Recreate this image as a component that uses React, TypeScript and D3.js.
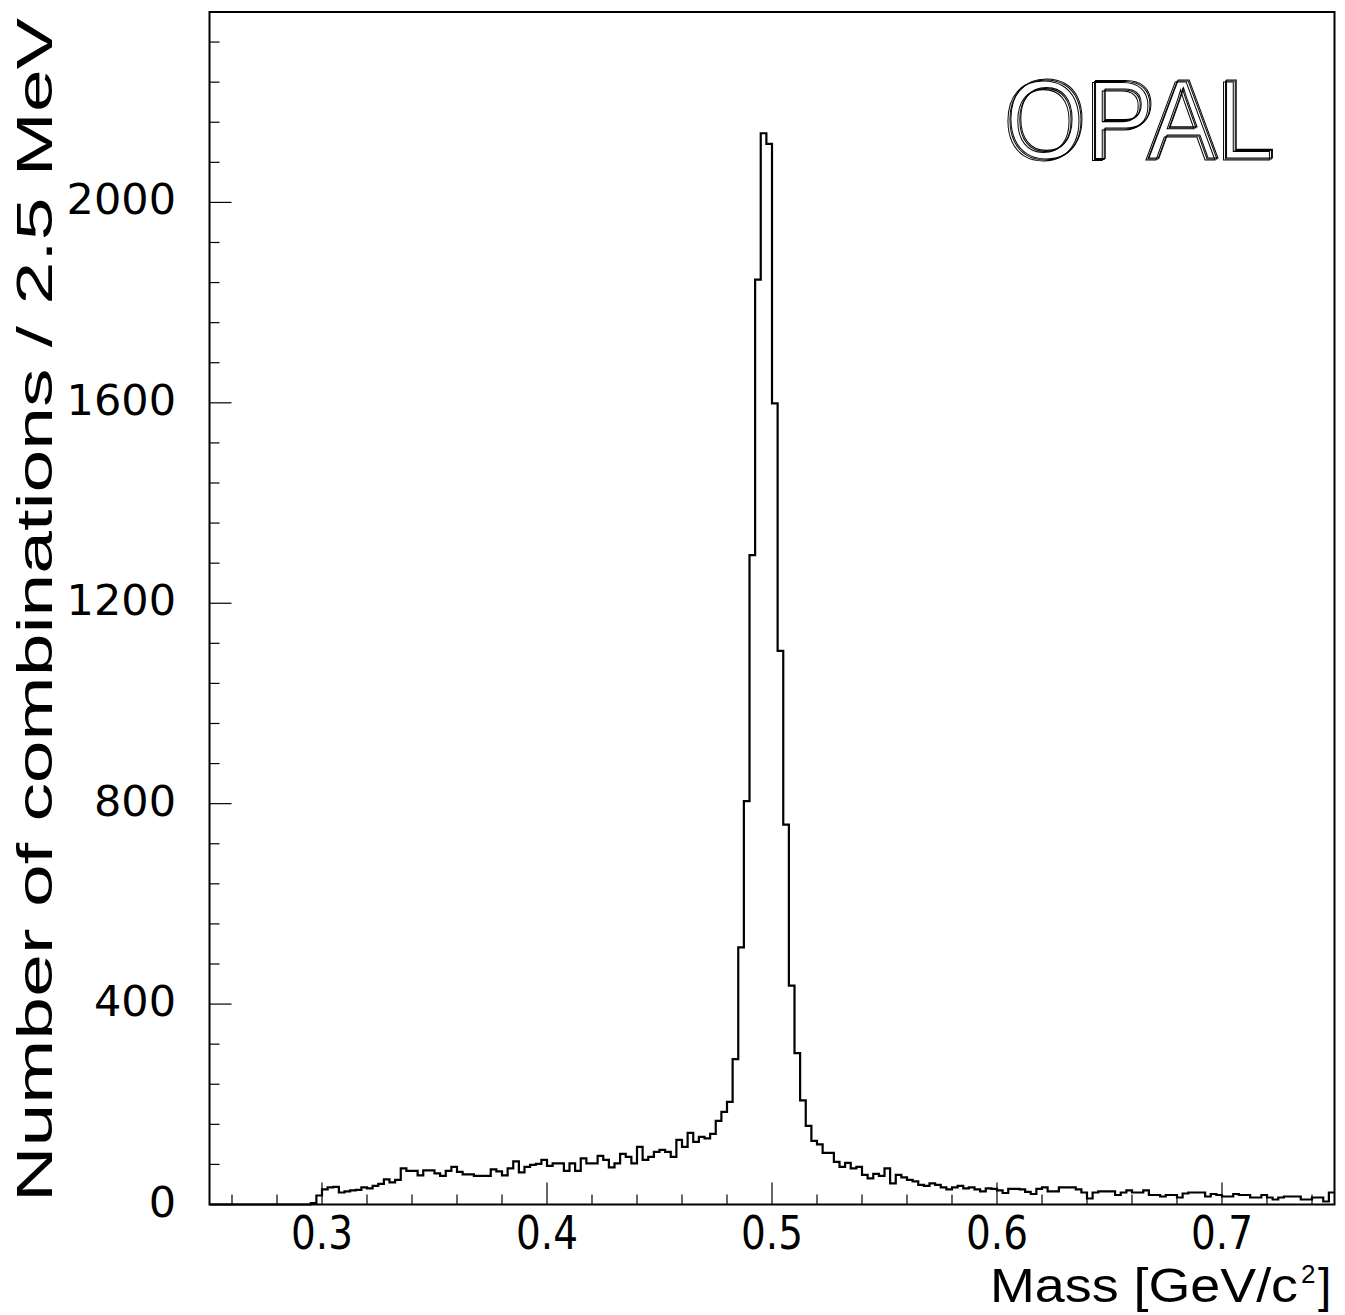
import React from "react";
import * as d3 from "d3";

// Histogram: 2.5 MeV bins from 0.25 to 0.75 GeV/c^2
const binStart = 0.25;
const binWidth = 0.0025;
const counts: number[] = [
  0, 0, 0, 0, 0, 0, 0, 0, 0, 0,
  0, 0, 0, 0, 0, 0, 0, 0, 3, 18,
  30, 34, 35, 24, 26, 28, 29, 34, 32, 37,
  41, 50, 44, 49, 72, 67, 67, 58, 68, 68,
  62, 57, 67, 75, 65, 60, 60, 57, 57, 57,
  70, 66, 58, 72, 86, 64, 75, 79, 81, 89,
  77, 82, 82, 67, 82, 67, 92, 82, 82, 97,
  89, 74, 82, 101, 95, 82, 115, 89, 95, 105,
  109, 105, 95, 129, 115, 143, 125, 135, 132, 141,
  167, 185, 205, 290, 513, 805, 1296, 1846, 2138, 2117,
  1599, 1105, 758, 437, 302, 208, 157, 127, 120, 103,
  103, 85, 75, 83, 72, 75, 59, 52, 61, 57,
  72, 42, 59, 54, 49, 46, 39, 37, 42, 39,
  34, 30, 34, 37, 32, 34, 30, 26, 32, 31,
  28, 23, 31, 31, 30, 25, 21, 31, 34, 26,
  26, 34, 34, 34, 30, 24, 12, 24, 26, 26,
  26, 19, 24, 28, 24, 24, 28, 19, 19, 16,
  19, 19, 14, 22, 24, 24, 24, 16, 21, 19,
  16, 16, 21, 19, 19, 14, 14, 19, 14, 10,
  14, 16, 16, 16, 10, 10, 14, 14, 6, 24,
];

const xDomain: [number, number] = [0.25, 0.75];
const yDomain: [number, number] = [0, 2380];
const xTickLabels = [0.3, 0.4, 0.5, 0.6, 0.7];
const yTickLabels = [0, 400, 800, 1200, 1600, 2000];
const xMinorStep = 0.02;
const yMinorStep = 80;

const W = 1345;
const H = 1315;
const left = 209.5;
const right = 1334.5;
const top = 12;
const bottom = 1204.5;

export default function App() {
  const x = d3.scaleLinear().domain(xDomain).range([left, right]);
  const y = d3.scaleLinear().domain(yDomain).range([bottom, top]);

  const pts: [number, number][] = counts.map((c, i) => [binStart + i * binWidth, c]);
  pts.push([binStart + counts.length * binWidth, counts[counts.length - 1]]);
  const line = d3
    .line<[number, number]>()
    .x((d) => x(d[0]))
    .y((d) => y(d[1]))
    .curve(d3.curveStepAfter);
  const pathD = line(pts) || "";

  const xTicks: number[] = [];
  for (let v = 0.26; v < 0.75 - 1e-9; v += xMinorStep) xTicks.push(Math.round(v * 1000) / 1000);
  const yTicks: number[] = [];
  for (let v = 0; v <= 2380; v += yMinorStep) yTicks.push(v);

  const isMajorX = (v: number) => xTickLabels.some((t) => Math.abs(t - v) < 1e-6);
  const isMajorY = (v: number) => v % 400 === 0;

  const font = "'Liberation Sans', Arial, Helvetica, sans-serif";

  return (
    <svg
      width={W}
      height={H}
      style={{ position: "absolute", left: 0, top: 0, background: "#fff" }}
      xmlns="http://www.w3.org/2000/svg"
    >
      <defs>
        <filter id="opalEcho" x="-5%" y="-10%" width="115%" height="125%">
          <feOffset in="SourceGraphic" dx={3} dy={-2} result="off1" />
          <feOffset in="SourceGraphic" dx={1.5} dy={-1} result="off2" />
          <feMerge>
            <feMergeNode in="SourceGraphic" />
            <feMergeNode in="off2" />
            <feMergeNode in="off1" />
          </feMerge>
        </filter>
      </defs>
      <rect x={0} y={0} width={W} height={H} fill="#fff" />
      {/* histogram */}
      <path d={pathD} fill="none" stroke="#000" strokeWidth={2.2} />
      {/* frame */}
      <rect
        x={left}
        y={top}
        width={right - left}
        height={bottom - top}
        fill="none"
        stroke="#000"
        strokeWidth={2}
      />
      {/* y ticks */}
      {yTicks.map((v) => (
        <line
          key={"yt" + v}
          x1={left}
          x2={left + (isMajorY(v) ? 22 : 10)}
          y1={y(v)}
          y2={y(v)}
          stroke="#000"
          strokeWidth={1.2}
        />
      ))}
      {/* x ticks */}
      {xTicks.map((v) => (
        <line
          key={"xt" + v}
          x1={x(v)}
          x2={x(v)}
          y1={bottom}
          y2={bottom - (isMajorX(v) ? 22 : 10)}
          stroke="#000"
          strokeWidth={1.2}
        />
      ))}
      {/* y tick labels */}
      {yTickLabels.map((v) => (
        <text
          key={"yl" + v}
          x={176}
          y={y(v) + 12}
          textAnchor="end"
          fontFamily="'DejaVu Sans', sans-serif"
          fontSize={43}
          fill="#000"
        >
          {String(v)}
        </text>
      ))}
      {/* x tick labels */}
      {xTickLabels.map((v) => (
        <text
          key={"xl" + v}
          x={x(v) - 31}
          y={1249}
          fontFamily="'DejaVu Sans', sans-serif"
          fontSize={47}
          textLength={62}
          lengthAdjust="spacingAndGlyphs"
          fill="#000"
        >
          {v.toFixed(1)}
        </text>
      ))}
      {/* x axis title */}
      <text
        x={990}
        y={1302}
        fontFamily={font}
        fontSize={48}
        textLength={308}
        lengthAdjust="spacingAndGlyphs"
        fill="#000"
      >
        Mass [GeV/c
      </text>
      <text x={1301} y={1283} fontFamily={font} fontSize={26} fill="#000">
        2
      </text>
      <text x={1318} y={1302} fontFamily={font} fontSize={48} fill="#000">
        ]
      </text>
      {/* y axis title */}
      <text
        transform="translate(52,1202) rotate(-90)"
        x={0}
        y={0}
        fontFamily={font}
        fontSize={50}
        textLength={1184}
        lengthAdjust="spacingAndGlyphs"
        fill="#000"
      >
        Number of combinations / 2.5 MeV
      </text>
      {/* OPAL logo */}
      <text
        x={1003}
        y={160}
        fontFamily={font}
        fontSize={114}
        textLength={270}
        lengthAdjust="spacingAndGlyphs"
        fill="none"
        stroke="#000"
        strokeWidth={1.1}
        filter="url(#opalEcho)"
      >
        OPAL
      </text>
    </svg>
  );
}
